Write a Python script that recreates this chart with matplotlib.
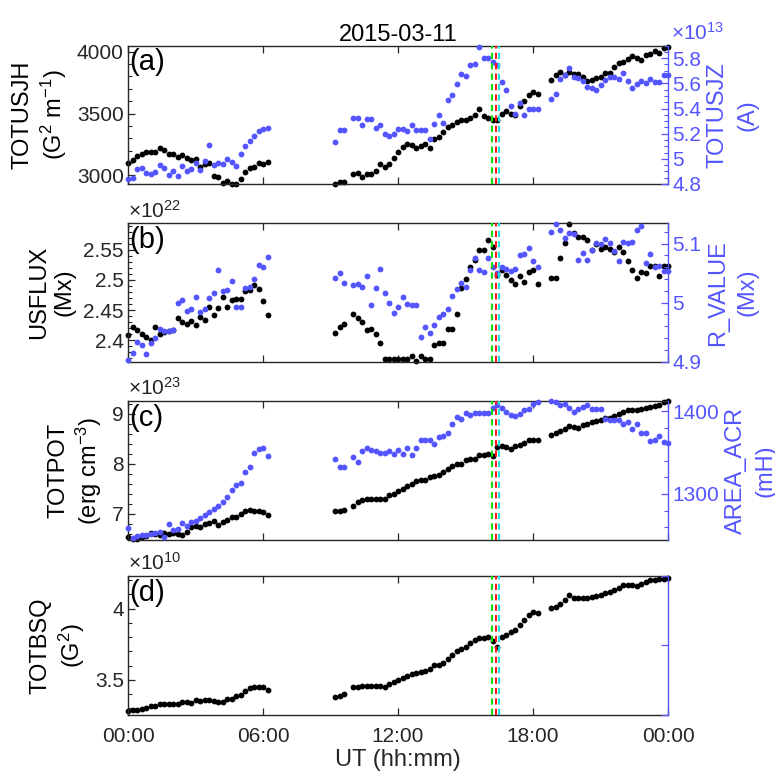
import matplotlib

matplotlib.use("Agg")
import matplotlib.dates as mdates  # noqa: E402
import matplotlib.pyplot as plt  # noqa: E402
import numpy as np  # noqa: E402
import pandas as pd  # noqa: E402
from matplotlib.ticker import FixedLocator, FuncFormatter, MultipleLocator, NullFormatter  # noqa: E402

NAN = np.nan

# SHARP keywords at 12-min cadence, two contiguous stretches with a data gap between.
TIMES_1 = pd.date_range("2015-03-11 00:00", "2015-03-11 06:12", freq="12min")
TIMES_2 = pd.date_range("2015-03-11 09:12", "2015-03-12 00:00", freq="12min")

# GOES flare start / peak / end
FLARE_TIMES = ["2015-03-11 16:11", "2015-03-11 16:22", "2015-03-11 16:29"]
FLARE_COLORS = ["#10dd10", "#ff1a1a", "#20e0e0"]

TOTUSJH_1 = [3100, 3123, 3156, 3169, 3190, 3188, 3185, 3223, 3204, 3172, 3172,
             3145, 3161, 3137, 3121, 3134, 3070, 3088, 3102, 2997, 2989, 2941,
             2957, 2930, 2930, 2968, 3024, 3056, 3070, 3102, 3091, 3107]
TOTUSJH_2 = [2930, 2946, 2946, NAN, 3008, 3021, 2989, 3008, 3013, 3035, 3091,
             3064, 3091, 3139, 3185, 3231, 3250, 3242, 3225, 3236, 3255, 3225,
             3298, 3311, 3352, 3392, 3408, 3432, 3451, 3446, 3467, 3486, 3534,
             3478, 3467, 3451, 3451, 3494, 3518, 3494, 3486, 3558, 3599, 3652,
             3671, 3661, NAN, NAN, 3768, 3814, 3835, 3814, 3840, 3822, 3822,
             3795, 3763, 3773, 3787, 3795, 3827, 3830, 3875, 3913, 3921, 3943,
             3964, 3948, 3935, 3975, 3983, 4010, 3988, 4031, 4037]

# TOTUSJZ in units of 1e13 A
TOTUSJZ_1 = [4.840, 4.845, 4.916, 4.929, 4.884, 4.879, 4.898, 4.950, 4.929,
             4.871, 4.903, 4.866, 4.942, 4.903, 4.919, 4.969, 4.911, 4.985,
             5.109, 4.950, 4.969, 4.956, 4.995, 4.971, 4.942, 5.037, 5.103,
             5.140, 5.185, 5.219, 5.235, 5.248]
TOTUSJZ_2 = [5.135, 5.227, 5.227, NAN, 5.325, 5.325, 5.267, 5.314, 5.314,
             5.248, 5.267, 5.196, 5.180, 5.196, 5.235, 5.235, 5.219, 5.267,
             5.227, 5.227, 5.227, 5.156, 5.280, 5.346, 5.285, 5.470, 5.510,
             5.597, 5.676, 5.655, 5.742, 5.755, 5.887, 5.800, 5.800, 5.773,
             5.747, 5.610, 5.549, 5.420, 5.360, 5.444, 5.346, 5.394, 5.399,
             5.399, NAN, NAN, 5.473, 5.512, 5.636, 5.663, 5.723, 5.649, 5.641,
             5.615, 5.570, 5.565, 5.549, 5.583, 5.623, 5.649, 5.649, 5.636,
             5.681, 5.618, 5.565, 5.597, 5.615, 5.605, 5.636, 5.610, 5.610,
             5.663, 5.663]

# USFLUX in units of 1e22 Mx
USFLUX_1 = [2.408, 2.422, 2.417, 2.410, 2.405, 2.400, 2.421, 2.410, 2.414,
            2.415, 2.417, 2.436, 2.430, 2.426, 2.432, 2.425, 2.439, 2.433,
            2.455, 2.441, 2.453, 2.471, 2.455, 2.467, 2.468, 2.468, 2.481,
            2.483, 2.492, 2.485, 2.465, 2.442]
USFLUX_2 = [2.412, 2.421, 2.427, NAN, 2.443, 2.436, 2.430, 2.417, 2.419,
            2.410, 2.395, 2.369, 2.368, 2.368, 2.368, 2.369, 2.369, 2.373,
            2.366, 2.373, 2.368, 2.369, 2.392, 2.395, 2.395, 2.418, 2.418,
            2.444, 2.486, 2.501, 2.521, 2.533, 2.550, 2.549, 2.566, 2.554,
            2.508, 2.517, 2.508, 2.500, 2.493, 2.507, 2.496, 2.514, 2.517,
            2.493, NAN, NAN, 2.504, 2.503, 2.536, 2.561, 2.593, 2.578, 2.571,
            2.571, 2.567, 2.550, 2.559, 2.551, 2.554, 2.551, 2.547, 2.554,
            2.547, 2.531, 2.517, 2.504, 2.514, 2.511, 2.523, 2.523, 2.507,
            2.523, 2.523]

R_VALUE_1 = [4.903, 4.914, 4.934, 4.928, 4.913, 4.931, 4.940, 4.955, 4.952,
             4.952, 4.954, 4.999, 5.005, 4.986, 4.990, 5.009, 4.985, 4.990,
             5.007, 5.016, 5.055, 5.020, 5.021, 5.036, 4.993, 4.992, 5.024,
             5.027, 5.040, 5.064, 5.060, 5.078]
R_VALUE_2 = [5.042, 5.050, 5.033, NAN, 5.029, 5.031, 5.026, 5.045, 4.996,
             5.025, 5.057, 5.017, 5.000, 4.983, 4.992, 5.010, 4.998, 4.996,
             4.996, 4.942, 4.959, 4.948, 4.962, 4.976, 4.981, 4.990, 5.011,
             5.023, 5.033, 5.026, 5.055, 5.075, 5.055, 5.051, 5.075, 5.061,
             5.050, 5.060, 5.057, 5.053, 5.057, 5.081, 5.082, 5.092, 5.071,
             5.061, NAN, NAN, 5.119, 5.133, 5.123, 5.109, 5.118, 5.116, 5.072,
             5.084, 5.072, 5.089, 5.101, 5.099, 5.107, 5.101, 5.088, 5.071,
             5.102, 5.101, 5.102, 5.123, 5.130, 5.067, 5.082, 5.061, 5.062,
             5.054, 5.054]

# TOTPOT in units of 1e23 erg cm^-3
TOTPOT_1 = [6.533, 6.500, 6.500, 6.533, 6.560, 6.613, 6.593, 6.580, 6.613,
            6.593, 6.613, 6.593, 6.580, 6.633, 6.727, 6.747, 6.740, 6.793,
            6.813, 6.860, 6.780, 6.833, 6.867, 6.927, 6.933, 7.000, 7.047,
            7.080, 7.060, 7.047, 7.033, 6.980]
TOTPOT_2 = [7.060, 7.060, 7.073, NAN, 7.160, 7.227, 7.280, 7.300, 7.300,
            7.300, 7.300, 7.300, 7.367, 7.400, 7.447, 7.500, 7.547, 7.593,
            7.647, 7.667, 7.680, 7.727, 7.760, 7.780, 7.827, 7.900, 7.960,
            8.000, 8.000, 8.067, 8.100, 8.100, 8.180, 8.180, 8.193, 8.147,
            8.327, 8.347, 8.327, 8.300, 8.347, 8.380, 8.413, 8.467, 8.480,
            8.480, NAN, NAN, 8.580, 8.613, 8.660, 8.700, 8.747, 8.727, 8.713,
            8.767, 8.793, 8.833, 8.847, 8.867, 8.913, 8.913, 8.960, 9.000,
            9.033, 9.080, 9.080, 9.080, 9.093, 9.113, 9.133, 9.160, 9.180,
            9.227, 9.247]

AREA_ACR_1 = [1259.4, 1246.6, 1249.4, 1250.2, 1250.6, 1251.4, 1252.6, 1254.2,
              1248.6, 1263.5, 1256.2, 1257.4, 1265.5, 1261.4, 1266.3, 1267.5,
              1271.5, 1274.7, 1278.3, 1281.5, 1285.5, 1290.4, 1296.4, 1304.8,
              1310.4, 1313.7, 1326.5, 1332.9, 1349.8, 1353.8, 1355.0, 1345.8]
AREA_ACR_2 = [1341.8, 1332.9, 1332.5, NAN, 1344.6, 1339.0, 1351.8, 1355.0,
              1352.6, 1351.8, 1349.8, 1349.8, 1351.8, 1348.6, 1353.0, 1347.8,
              1355.0, 1347.0, 1355.0, 1365.1, 1365.1, 1365.1, 1360.6, 1368.7,
              1369.9, 1373.9, 1384.7, 1392.8, 1390.8, 1397.2, 1394.8, 1397.2,
              1397.2, 1398.0, 1398.0, 1404.0, 1406.8, 1404.0, 1399.2, 1394.8,
              1394.0, 1396.0, 1400.8, 1402.0, 1409.2, 1410.8, NAN, NAN, 1412.0,
              1410.8, 1406.8, 1409.2, 1404.0, 1399.2, 1402.0, 1404.8, 1406.8,
              1402.0, 1402.8, 1402.0, 1390.0, 1388.8, 1388.8, 1388.8, 1383.9,
              1387.1, 1377.9, 1383.9, 1373.9, 1373.9, 1363.9, 1365.1, 1369.9,
              1363.1, 1361.8]

# TOTBSQ in units of 1e10 G^2
TOTBSQ_1 = [3.279, 3.286, 3.291, 3.295, 3.302, 3.314, 3.314, 3.330, 3.330,
            3.330, 3.330, 3.333, 3.342, 3.342, 3.337, 3.360, 3.353, 3.356,
            3.360, 3.349, 3.344, 3.344, 3.367, 3.367, 3.384, 3.391, 3.419,
            3.442, 3.453, 3.453, 3.447, 3.430]
TOTBSQ_2 = [3.377, 3.388, 3.402, NAN, 3.447, 3.447, 3.460, 3.458, 3.458,
            3.458, 3.458, 3.447, 3.470, 3.488, 3.500, 3.516, 3.528, 3.540,
            3.547, 3.558, 3.565, 3.577, 3.605, 3.605, 3.616, 3.644, 3.674,
            3.702, 3.716, 3.733, 3.756, 3.779, 3.795, 3.795, 3.798, 3.774,
            3.733, 3.798, 3.814, 3.833, 3.849, 3.884, 3.919, 3.953, 3.977,
            3.972, NAN, NAN, 4.007, 4.012, 4.035, 4.063, 4.093, 4.077, 4.074,
            4.074, 4.074, 4.081, 4.088, 4.093, 4.112, 4.116, 4.128, 4.144,
            4.163, 4.167, 4.167, 4.158, 4.174, 4.186, 4.198, 4.202, 4.209,
            4.209, 4.214]

AX_COLOR = "#262626"
BLUE = "#5555ff"
MS = 4.2
TICK_FS = 15
LABEL_FS = 17

plt.rcParams["font.family"] = ["Liberation Sans", "DejaVu Sans"]
plt.rcParams["mathtext.fontset"] = "custom"
plt.rcParams["mathtext.rm"] = "Liberation Sans"
plt.rcParams["mathtext.it"] = "Liberation Sans"


def series(first, second):
    if len(first) != len(TIMES_1) or len(second) != len(TIMES_2):
        raise ValueError("series length does not match time grid")
    return np.concatenate([first, second])


TIMES = TIMES_1.append(TIMES_2)

PANELS = [
    dict(tag="(a)", left=series(TOTUSJH_1, TOTUSJH_2),
         right=series(TOTUSJZ_1, TOTUSJZ_2),
         llabel="TOTUSJH\n(G$^2$ m$^{-1}$)", rlabel="TOTUSJZ\n(A)",
         lim=(2930, 4050), lmaj=500, lmin=100, lexp=None,
         rlim=(4.8, 5.9), rmaj=0.2, rmin=0.05, rexp=13),
    dict(tag="(b)", left=series(USFLUX_1, USFLUX_2),
         right=series(R_VALUE_1, R_VALUE_2),
         llabel="USFLUX\n(Mx)", rlabel="R_VALUE\n(Mx)",
         lim=(2.364, 2.594), lmaj=0.05, lmin=0.01, lexp=22,
         rlim=(4.9, 5.134), rmaj=0.1, rmin=0.02, rexp=None),
    dict(tag="(c)", left=series(TOTPOT_1, TOTPOT_2),
         right=series(AREA_ACR_1, AREA_ACR_2),
         llabel="TOTPOT\n(erg cm$^{-3}$)", rlabel="AREA_ACR\n(mH)",
         lim=(6.48, 9.25), lmaj=1, lmin=0.2, lexp=23,
         rlim=(1245, 1412), rmaj=100, rmin=20, rexp=None),
    dict(tag="(d)", left=series(TOTBSQ_1, TOTBSQ_2), right=None,
         llabel="TOTBSQ\n(G$^2$)", rlabel=None,
         lim=(3.256, 4.226), lmaj=0.5, lmin=0.1, lexp=10,
         rlim=(0, 1), rmaj=None, rmin=None, rexp=None),
]

BOTTOMS = [0.762, 0.532, 0.302, 0.0755]
LEFT, WIDTH, HEIGHT = 0.1652, 0.6968, 0.179

fmt = FuncFormatter(lambda v, pos: f"{v:g}")
t0 = pd.Timestamp("2015-03-11 00:00")
t1 = pd.Timestamp("2015-03-12 00:00")

fig = plt.figure(figsize=(7.75, 7.73), dpi=100)

for k, (p, bottom) in enumerate(zip(PANELS, BOTTOMS)):
    ax = fig.add_axes([LEFT, bottom, WIDTH, HEIGHT])
    ax2 = ax.twinx()

    ax.plot(TIMES, p["left"], "o", ms=MS, color="black", mec="none", clip_on=False)
    if p["right"] is not None:
        ax2.plot(TIMES, p["right"], "o", ms=MS, color=BLUE, mec="none", clip_on=False)

    for when, col in zip(FLARE_TIMES, FLARE_COLORS):
        ax2.axvline(pd.Timestamp(when), color=col, lw=1.5, ls=(0, (3, 2)), zorder=5)

    ax.set_xlim(t0, t1)
    ax.set_ylim(*p["lim"])
    ax2.set_ylim(*p["rlim"])

    ax.xaxis.set_major_locator(mdates.HourLocator(byhour=[0, 6, 12, 18]))
    ax.xaxis.set_major_formatter(mdates.DateFormatter("%H:%M"))
    ax.yaxis.set_major_locator(MultipleLocator(p["lmaj"]))
    ax.yaxis.set_minor_locator(MultipleLocator(p["lmin"]))
    ax.yaxis.set_major_formatter(fmt)
    if p["rmaj"] is not None:
        ax2.yaxis.set_major_locator(MultipleLocator(p["rmaj"]))
        ax2.yaxis.set_minor_locator(MultipleLocator(p["rmin"]))
        ax2.yaxis.set_major_formatter(fmt)
    else:
        ax2.yaxis.set_major_locator(FixedLocator([0, 0.5, 1]))
        ax2.yaxis.set_major_formatter(NullFormatter())

    ax.tick_params(axis="both", which="both", direction="in", colors=AX_COLOR,
                   labelsize=TICK_FS, top=True)
    ax.tick_params(axis="x", pad=9)
    ax.tick_params(axis="y", pad=3)
    ax.tick_params(which="major", length=5, width=0.9)
    ax.tick_params(which="minor", length=3, width=0.8)
    ax2.tick_params(axis="y", which="both", direction="in", colors=BLUE,
                    labelsize=TICK_FS, pad=3)
    ax2.tick_params(which="major", length=5, width=0.9)
    ax2.tick_params(which="minor", length=3, width=0.8)

    for side in ("left", "top", "bottom"):
        ax.spines[side].set_color(AX_COLOR)
        ax.spines[side].set_linewidth(1.0)
        ax2.spines[side].set_visible(False)
    ax.spines["right"].set_visible(False)
    ax2.spines["right"].set_color(BLUE)
    ax2.spines["right"].set_linewidth(1.0)

    ax.set_ylabel(p["llabel"], fontsize=LABEL_FS, color="black", labelpad=6,
                  linespacing=1.2)
    if p["rlabel"] is not None:
        ax2.set_ylabel(p["rlabel"], fontsize=LABEL_FS, color=BLUE,
                       rotation=90, labelpad=4, linespacing=1.45)

    if p["lexp"] is not None:
        ax.text(0.0, 1.015, f"$\\times$10$^{{{p['lexp']}}}$", transform=ax.transAxes,
                ha="left", va="bottom", fontsize=TICK_FS, color=AX_COLOR)
    if p["rexp"] is not None:
        ax.text(1.005, 1.015, f"$\\times$10$^{{{p['rexp']}}}$", transform=ax.transAxes,
                ha="left", va="bottom", fontsize=TICK_FS, color=BLUE)

    ax.text(0.003, 0.98, p["tag"], transform=ax.transAxes, ha="left", va="top",
            fontsize=21, color="black", zorder=10)

    if k == 0:
        ax.set_title("2015-03-11", fontsize=LABEL_FS, pad=3)
    if k < len(PANELS) - 1:
        ax.tick_params(axis="x", labelbottom=False)
    else:
        ax.set_xlabel("UT (hh:mm)", fontsize=LABEL_FS, color=AX_COLOR, labelpad=2)

fig.savefig("out.png", dpi=100)
